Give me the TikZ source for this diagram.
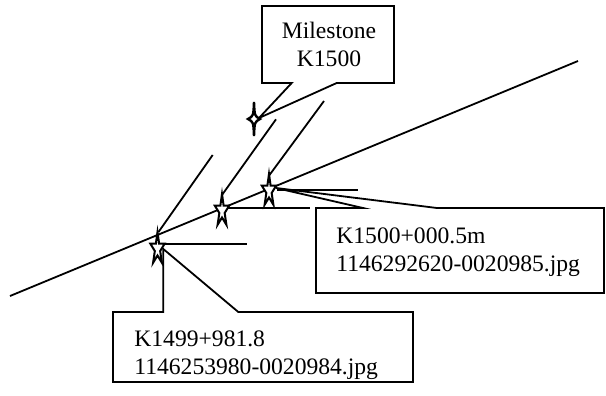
\documentclass[tikz,border=0pt]{standalone}
\usepackage{fontspec}
\setmainfont{Liberation Serif}
\tikzset{
  ink/.style={line width=0.9pt, line join=miter},
  callout/.style={ink, fill=white},
  label/.style={inner sep=0pt, font=\fontsize{11.8pt}{13.8pt}\selectfont},
  starfive/.pic={
    \draw[ink, fill=white, line width=1pt]
      (-90:7.5 and 17) -- (-54:2.8 and 6.5) -- (-18:7.5 and 17) -- (18:2.8 and 6.5)
      -- (54:7.5 and 17) -- (90:2.8 and 6.5) -- (126:7.5 and 17) -- (162:2.8 and 6.5)
      -- (198:7.5 and 17) -- (234:2.8 and 6.5) -- cycle;
  },
  starfour/.pic={
    \draw[ink, fill=white, line width=1.2pt]
      (0,-17) .. controls (0.6,-3) .. (6,0) .. controls (0.6,3) .. (0,17)
      .. controls (-0.6,3) .. (-6,0) .. controls (-0.6,-3) .. cycle;
  }
}
\begin{document}
\begin{tikzpicture}[x=0.5pt, y=-0.5pt]
\useasboundingbox (0,0) rectangle (606,396);

% road axis
\coordinate (roadA) at (10,296);
\coordinate (roadB) at (578,61);
\draw[ink] (roadA) -- (roadB);

% image positions along the axis
\coordinate (p1) at (157.5,249);
\coordinate (p2) at (222,211);
\coordinate (p3) at (269,191);
\coordinate (ms) at (254,119);

% viewing directions
\coordinate (d1) at (212.7,155);
\coordinate (d2) at (276,119.3);
\coordinate (d3) at (324,101);
\coordinate (t1) at (158.5,232);
\coordinate (t2) at (222,195);
\coordinate (t3) at (269.5,175);
\draw[ink] (t1) -- (d1);
\draw[ink] (t2) -- (d2);
\draw[ink] (t3) -- (d3);

% horizontal references
\coordinate (h1a) at (163,244);
\coordinate (h1b) at (247,244);
\coordinate (h2a) at (228,208);
\coordinate (h2b) at (310,208);
\coordinate (h3a) at (277,190);
\coordinate (h3b) at (358,190);
\draw[ink] (h1a) -- (h1b);
\draw[ink] (h2a) -- (h2b);
\draw[ink] (h3a) -- (h3b);

% callout: milestone
\coordinate (mtip) at (259,118);
\draw[callout] (291.7,83) -- (262,83) -- (262,6) -- (394,6) -- (394,83) -- (336.7,83) -- (mtip) -- cycle;
\node[label, align=center] (mtext) at (329,44.5) {Milestone\\K1500};

% callout: second image
\coordinate (tip2) at (276,188);
\draw[callout] (363,208) -- (316,208) -- (316,293) -- (604,293) -- (604,208) -- (437,208) -- (tip2) -- cycle;
\node[label, align=left, anchor=west] (img2) at (336,252) {K1500+000.5m\\1146292620-0020985.jpg};

% callout: first image
\coordinate (tip1) at (163.3,249);
\draw[callout] (163.3,312) -- (113,312) -- (113,382) -- (413,382) -- (413,312) -- (238.3,312) -- (tip1) -- cycle;
\node[label, align=left, anchor=west] (img1) at (134,355) {K1499+981.8\\1146253980-0020984.jpg};

% markers
\pic at (p1) {starfive};
\pic at (p2) {starfive};
\pic at (p3) {starfive};
\pic at (ms) {starfour};
\end{tikzpicture}
\end{document}
